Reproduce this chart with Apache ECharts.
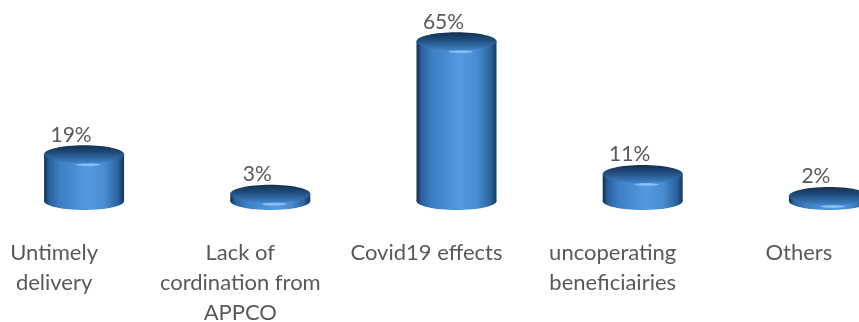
<!DOCTYPE html>
<html>
<head>
<meta charset="utf-8">
<script src="https://cdn.jsdelivr.net/npm/echarts@6/dist/echarts.min.js"></script>
<style>
  html, body { margin: 0; padding: 0; background: #ffffff; }
  #chart { width: 859px; height: 322px; }
</style>
</head>
<body>
<div id="chart"></div>
<script>
// Reasons reported for delays, share of responses (%)
const categories = [
  'Untimely\ndelivery',
  'Lack of\ncordination from\nAPPCO',
  'Covid19 effects',
  'uncoperating\nbeneficiairies',
  'Others'
];
const shares = [19, 3, 65, 11, 2];

const FONT = 'Lato, "Open Sans", sans-serif';
const TEXT_COLOR = '#595959';

const chart = echarts.init(document.getElementById('chart'), null, { renderer: 'canvas' });

// Horizontal shading for the cylinder wall
function bodyFill() {
  return new echarts.graphic.LinearGradient(0, 0, 1, 0, [
    { offset: 0.00, color: '#122c4a' },
    { offset: 0.06, color: '#2a609c' },
    { offset: 0.20, color: '#3c7fc5' },
    { offset: 0.55, color: '#559ade' },
    { offset: 0.76, color: '#478bd0' },
    { offset: 0.92, color: '#2c64a0' },
    { offset: 1.00, color: '#163860' }
  ]);
}
// Shading for the cylinder cap: dark at the back, wall colour at the front
function capFill() {
  return new echarts.graphic.LinearGradient(0, 0, 0, 1, [
    { offset: 0.00, color: '#142f50' },
    { offset: 0.40, color: '#1f4a7a' },
    { offset: 1.00, color: '#3f82c6' }
  ]);
}

function renderCylinder(params, api) {
  const idx = api.value(0);
  const v = api.value(1);
  const top = api.coord([idx, v]);
  const base = api.coord([idx, 0]);
  const cx = top[0];
  const rx = 40;
  const ry = 9;
  const children = [
    {
      type: 'ellipse',
      shape: { cx: cx, cy: base[1], rx: rx, ry: ry },
      style: { fill: bodyFill() }
    },
    {
      type: 'rect',
      shape: { x: cx - rx, y: top[1], width: rx * 2, height: Math.max(base[1] - top[1], 0) },
      style: { fill: bodyFill() }
    },
    {
      type: 'ellipse',
      shape: { cx: cx, cy: top[1], rx: rx, ry: ry },
      style: { fill: capFill() }
    },
    {
      // soft highlight along the front rim of the cap
      type: 'ellipse',
      shape: { cx: cx + 4, cy: top[1] + ry + 1.5, rx: 12, ry: 1.3 },
      style: { fill: '#a6d4ff', opacity: 0.65 }
    },
    {
      type: 'text',
      style: {
        x: cx - 13,
        y: top[1] - ry,
        text: v + '%',
        fill: TEXT_COLOR,
        font: '21px ' + FONT,
        align: 'center',
        verticalAlign: 'bottom'
      }
    }
  ];
  return { type: 'group', children: children };
}

chart.setOption({
  animation: false,
  backgroundColor: '#ffffff',
  grid: {
    left: -9, right: -63, top: 29, bottom: 121,
    containLabel: false,
    outerBoundsMode: 'none'
  },
  xAxis: {
    type: 'category',
    data: categories,
    axisLine: { show: false },
    axisTick: { show: false },
    axisLabel: {
      interval: 0,
      margin: 37,
      color: TEXT_COLOR,
      fontFamily: FONT,
      fontSize: 22,
      lineHeight: 30,
      padding: [0, 60, 0, 0]
    }
  },
  yAxis: {
    type: 'value',
    min: 0,
    max: 70,
    show: false,
    splitLine: { show: false }
  },
  series: [{
    type: 'custom',
    renderItem: renderCylinder,
    clip: false,
    encode: { x: 0, y: 1 },
    data: shares.map(function (v, i) { return [i, v]; })
  }]
});
</script>
</body>
</html>
